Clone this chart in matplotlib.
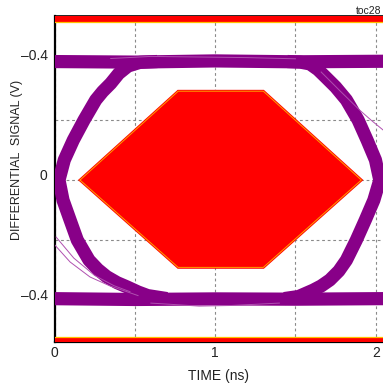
import matplotlib
matplotlib.use('Agg')
import matplotlib.pyplot as plt
from matplotlib.transforms import ScaledTranslation

plt.rcParams['font.family'] = ['Liberation Sans', 'DejaVu Sans']

# eye diagram bands (time in ns, signal in V)
upper_rail_t = [-0.05, 0.5, 1.0, 1.5, 2.1]
upper_rail_v = [0.395, 0.393, 0.397, 0.394, 0.396]
lower_rail_t = [-0.05, 0.5, 1.0, 1.5, 2.1]
lower_rail_v = [-0.395, -0.398, -0.396, -0.397, -0.395]

# left edge of the eye: from the top rail, through the crossing, down to the bottom rail
left_edge_t = [0.64, 0.53, 0.458, 0.40, 0.35, 0.30, 0.257, 0.184, 0.117, 0.061, 0.028,
               0.053, 0.097, 0.142, 0.215, 0.27, 0.325, 0.39, 0.451, 0.52, 0.58, 0.70]
left_edge_v = [0.395, 0.392, 0.38, 0.355, 0.322, 0.295, 0.267, 0.2, 0.133, 0.067, 0.0,
               -0.067, -0.133, -0.2, -0.267, -0.298, -0.322, -0.342, -0.356, -0.373, -0.385, -0.395]
# right edge of the eye
right_edge_t = [1.45, 1.53, 1.59, 1.64, 1.686, 1.75, 1.817, 1.89, 1.946, 1.998, 2.025,
                1.988, 1.935, 1.879, 1.817, 1.77, 1.714, 1.66, 1.61, 1.52, 1.43]
right_edge_v = [0.395, 0.393, 0.387, 0.368, 0.344, 0.31, 0.267, 0.2, 0.133, 0.067, 0.0,
                -0.067, -0.133, -0.2, -0.267, -0.303, -0.333, -0.353, -0.367, -0.388, -0.395]

# a few stray single traces
stray1_t = [0.003, 0.097, 0.221, 0.346, 0.439, 0.52]
stray1_v = [-0.217, -0.273, -0.323, -0.353, -0.37, -0.385]
stray2_t = [0.01, 0.12, 0.25, 0.37, 0.47]
stray2_v = [-0.19, -0.26, -0.318, -0.352, -0.372]
stray3_t = [1.66, 1.772, 1.90, 1.97, 2.045]
stray3_v = [0.36, 0.30, 0.233, 0.2, 0.167]
stray4_t = [0.35, 0.6, 0.9, 1.2, 1.5]
stray4_v = [0.405, 0.412, 0.41, 0.408, 0.404]
stray5_t = [0.6, 0.9, 1.1, 1.4]
stray5_v = [-0.41, -0.42, -0.418, -0.41]

# eye mask
mask_t = [0.159, 0.77, 1.30, 1.91, 1.30, 0.77]
mask_v = [0.0, 0.296, 0.296, 0.0, -0.291, -0.291]
mask_top = 0.527
mask_bottom = -0.523

x_ticks = [0, 0.5, 1, 1.5, 2]
x_labels = ['0', '', '1', '', '2']
y_ticks = [-0.4, -0.2, 0, 0.2, 0.4]
y_labels = ['\u20130.4', '', '0', '', '\u20130.4']

purple = '#880088'
light = '#b050b0'

fig = plt.figure(figsize=(3.83, 3.89), dpi=100)
ax = fig.add_axes([0.1423, 0.1221, 0.8577, 0.8355])
ax.set_xlim(0, 2.045)
ax.set_ylim(-0.538, 0.545)

ax.grid(True, color='#8a8a8a', linestyle=(0, (2.5, 2.5)), linewidth=0.8)
ax.set_axisbelow(True)

# masks
ax.fill(mask_t, mask_v, color='#ff0000', edgecolor='#ff0000', linewidth=2, zorder=3)
ax.plot(mask_t + mask_t[:1], mask_v + mask_v[:1], color='#ffa000', linewidth=0.7, zorder=4)
ax.axhspan(mask_top, 0.6, color='#ff0000', zorder=3, linewidth=0)
ax.axhspan(-0.6, mask_bottom, color='#ff0000', zorder=3, linewidth=0)
ax.axhline(mask_top, color='#ffc000', linewidth=0.9, zorder=4)
ax.axhline(mask_bottom, color='#ffc000', linewidth=0.9, zorder=4)

# eye bands
for t, v in [(upper_rail_t, upper_rail_v), (lower_rail_t, lower_rail_v),
             (left_edge_t, left_edge_v), (right_edge_t, right_edge_v)]:
    ax.plot(t, v, color=purple, linewidth=9.5, solid_capstyle='butt',
            solid_joinstyle='round', zorder=5)

for t, v in [(stray1_t, stray1_v), (stray2_t, stray2_v), (stray3_t, stray3_v),
             (stray4_t, stray4_v), (stray5_t, stray5_v)]:
    ax.plot(t, v, color=light, linewidth=0.7, zorder=5)

ax.set_xticks(x_ticks)
ax.set_xticklabels(x_labels)
ax.set_yticks(y_ticks)
ax.set_yticklabels(y_labels)
ax.tick_params(length=0, labelsize=10, colors='#222222')
ax.tick_params(axis='x', pad=3)
ax.tick_params(axis='y', pad=5)
for lab in ax.get_yticklabels():
    lab.set_transform(lab.get_transform() + ScaledTranslation(0, 0.06, fig.dpi_scale_trans))

ax.spines['right'].set_visible(False)
ax.spines['left'].set_linewidth(1.6)
ax.spines['bottom'].set_linewidth(1.6)
ax.spines['top'].set_linewidth(1.2)

ax.set_xlabel('TIME (ns)', fontsize=10, color='#222222', labelpad=7)
ax.set_ylabel('DIFFERENTIAL  SIGNAL (V)', fontsize=9, color='#222222')
ax.yaxis.set_label_coords(-0.096, 0.56)
fig.text(0.995, 0.985, 'toc28', ha='right', va='top', fontsize=7.5, color='#222222')

plt.savefig('out.png', dpi=100)
